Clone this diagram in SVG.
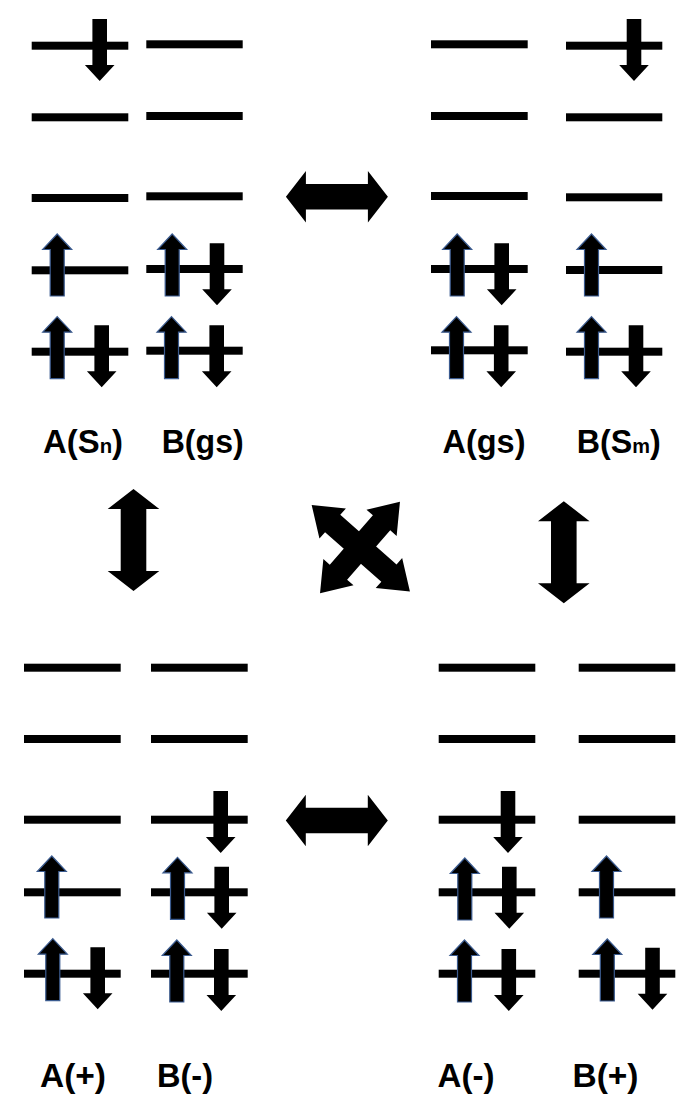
<svg xmlns="http://www.w3.org/2000/svg" xmlns:xlink="http://www.w3.org/1999/xlink" width="684" height="1099" viewBox="0 0 684 1099">
<style>
.lv{fill:#000}
.up{fill:#000;stroke:#3b5b8f;stroke-width:1.2}
.dn{fill:#000}
.big{fill:#000}
.lbl{font-family:"Liberation Sans",Arial,sans-serif;font-weight:bold;font-size:34px;fill:#000}
.sub{font-size:21px}
</style>
<defs>
<path id="upA" d="M0,0 L14.5,15.5 L7,15.5 L7,62 L-7,62 L-7,15.5 L-14.5,15.5 Z"/>
<path id="dnA" d="M-7.3,0 L7.3,0 L7.3,46 L14.8,46 L0,62 L-14.8,46 L-7.3,46 Z"/>
<path id="hdbl" d="M-51,0 L-31,-25.8 L-31,-12.8 L31,-12.8 L31,-25.8 L51,0 L31,25.8 L31,12.8 L-31,12.8 L-31,25.8 Z"/>
</defs>

<g id="panel-top-left">
<rect class="lv" x="31.7" y="41.7" width="96.6" height="8"/>
<rect class="lv" x="31.7" y="113.3" width="96.6" height="8"/>
<rect class="lv" x="31.7" y="194" width="96.6" height="8"/>
<rect class="lv" x="31.7" y="266.3" width="96.6" height="8"/>
<rect class="lv" x="31.7" y="347.7" width="96.6" height="8"/>
<rect class="lv" x="146.3" y="40.3" width="96.4" height="8"/>
<rect class="lv" x="146.3" y="112" width="96.4" height="8"/>
<rect class="lv" x="146.3" y="192.3" width="96.4" height="8"/>
<rect class="lv" x="146.3" y="265" width="96.4" height="8"/>
<rect class="lv" x="146.3" y="346.7" width="96.4" height="8"/>
<use href="#dnA" class="dn" x="99.7" y="19"/>
<use href="#upA" class="up" x="57.2" y="234"/>
<use href="#upA" class="up" x="57.2" y="316.7"/>
<use href="#dnA" class="dn" x="101.7" y="325.3"/>
<use href="#upA" class="up" x="172.2" y="234"/>
<use href="#dnA" class="dn" x="217" y="243.3"/>
<use href="#upA" class="up" x="171.5" y="316.7"/>
<use href="#dnA" class="dn" x="216.7" y="325.3"/>
<text class="lbl" x="43" y="453" textLength="80" lengthAdjust="spacingAndGlyphs">A(S<tspan class="sub">n</tspan>)</text>
<text class="lbl" x="161.7" y="453" textLength="82" lengthAdjust="spacingAndGlyphs">B(gs)</text>
</g>

<g id="panel-top-right">
<rect class="lv" x="431" y="40.3" width="96.7" height="8"/>
<rect class="lv" x="431" y="112" width="96.7" height="8"/>
<rect class="lv" x="431" y="192" width="96.7" height="8"/>
<rect class="lv" x="431" y="265" width="96.7" height="8"/>
<rect class="lv" x="431" y="346.3" width="96.7" height="8"/>
<rect class="lv" x="566" y="41.7" width="96.3" height="8"/>
<rect class="lv" x="566" y="113.3" width="96.3" height="8"/>
<rect class="lv" x="566" y="193.3" width="96.3" height="8"/>
<rect class="lv" x="566" y="266" width="96.3" height="8"/>
<rect class="lv" x="566" y="347.7" width="96.3" height="8"/>
<use href="#dnA" class="dn" x="634" y="19"/>
<use href="#upA" class="up" x="457.2" y="234"/>
<use href="#dnA" class="dn" x="501.7" y="243.3"/>
<use href="#upA" class="up" x="456.5" y="316.7"/>
<use href="#dnA" class="dn" x="501.2" y="325.3"/>
<use href="#upA" class="up" x="591.5" y="234"/>
<use href="#upA" class="up" x="591.5" y="316.7"/>
<use href="#dnA" class="dn" x="636" y="325.3"/>
<text class="lbl" x="442.5" y="453" textLength="83" lengthAdjust="spacingAndGlyphs">A(gs)</text>
<text class="lbl" x="576.7" y="453" textLength="84" lengthAdjust="spacingAndGlyphs">B(S<tspan class="sub">m</tspan>)</text>
</g>

<g id="panel-bottom-left">
<rect class="lv" x="24" y="663.7" width="96.7" height="8"/>
<rect class="lv" x="24" y="735" width="96.7" height="8"/>
<rect class="lv" x="24" y="815.7" width="96.7" height="8"/>
<rect class="lv" x="24" y="888.3" width="96.7" height="8"/>
<rect class="lv" x="24" y="969.7" width="96.7" height="8"/>
<rect class="lv" x="151" y="663.7" width="96.7" height="8"/>
<rect class="lv" x="151" y="735" width="96.7" height="8"/>
<rect class="lv" x="151" y="815.7" width="96.7" height="8"/>
<rect class="lv" x="151" y="888.3" width="96.7" height="8"/>
<rect class="lv" x="151" y="969.7" width="96.7" height="8"/>
<use href="#dnA" class="dn" x="220.7" y="791"/>
<use href="#upA" class="up" x="51.8" y="856"/>
<use href="#upA" class="up" x="52.8" y="938.7"/>
<use href="#dnA" class="dn" x="97.7" y="947.3"/>
<use href="#upA" class="up" x="177.5" y="857.3"/>
<use href="#dnA" class="dn" x="221.7" y="866.7"/>
<use href="#upA" class="up" x="176.8" y="940"/>
<use href="#dnA" class="dn" x="221.3" y="949"/>
<text class="lbl" x="40" y="1087" textLength="66" lengthAdjust="spacingAndGlyphs">A(+)</text>
<text class="lbl" x="157" y="1087" textLength="56" lengthAdjust="spacingAndGlyphs">B(-)</text>
</g>

<g id="panel-bottom-right">
<rect class="lv" x="438.7" y="663.7" width="96.6" height="8"/>
<rect class="lv" x="438.7" y="735" width="96.6" height="8"/>
<rect class="lv" x="438.7" y="815.7" width="96.6" height="8"/>
<rect class="lv" x="438.7" y="888.3" width="96.6" height="8"/>
<rect class="lv" x="438.7" y="969.7" width="96.6" height="8"/>
<rect class="lv" x="578.7" y="663.7" width="96.6" height="8"/>
<rect class="lv" x="578.7" y="735" width="96.6" height="8"/>
<rect class="lv" x="578.7" y="815.7" width="96.6" height="8"/>
<rect class="lv" x="578.7" y="888.3" width="96.6" height="8"/>
<rect class="lv" x="578.7" y="969.7" width="96.6" height="8"/>
<use href="#dnA" class="dn" x="508" y="791"/>
<use href="#upA" class="up" x="464.8" y="858"/>
<use href="#dnA" class="dn" x="509.3" y="866.7"/>
<use href="#upA" class="up" x="464.5" y="940"/>
<use href="#dnA" class="dn" x="508.8" y="949"/>
<use href="#upA" class="up" x="606.5" y="856"/>
<use href="#upA" class="up" x="607.3" y="939"/>
<use href="#dnA" class="dn" x="652.5" y="947.7"/>
<text class="lbl" x="437.5" y="1087" textLength="57" lengthAdjust="spacingAndGlyphs">A(-)</text>
<text class="lbl" x="572.5" y="1087" textLength="66" lengthAdjust="spacingAndGlyphs">B(+)</text>
</g>

<g id="connectors">
<use href="#hdbl" class="big" transform="translate(336.9,196.8)"/>
<use href="#hdbl" class="big" transform="translate(336.8,820.5)"/>
<use href="#hdbl" class="big" transform="translate(133.5,540) rotate(90)"/>
<use href="#hdbl" class="big" transform="translate(563.8,552.2) rotate(90)"/>
<path class="big" transform="translate(360.8,548.3) rotate(41.4)" d="M-65.5,0 L-37.5,-20 L-37.5,-11.5 L37.5,-11.5 L37.5,-20 L65.5,0 L37.5,20 L37.5,11.5 L-37.5,11.5 L-37.5,20 Z"/>
<path class="big" transform="translate(360,547.5) rotate(-48.9)" d="M-60.8,0 L-32.8,-20 L-32.8,-11.5 L32.8,-11.5 L32.8,-20 L60.8,0 L32.8,20 L32.8,11.5 L-32.8,11.5 L-32.8,20 Z"/>
</g>
</svg>
